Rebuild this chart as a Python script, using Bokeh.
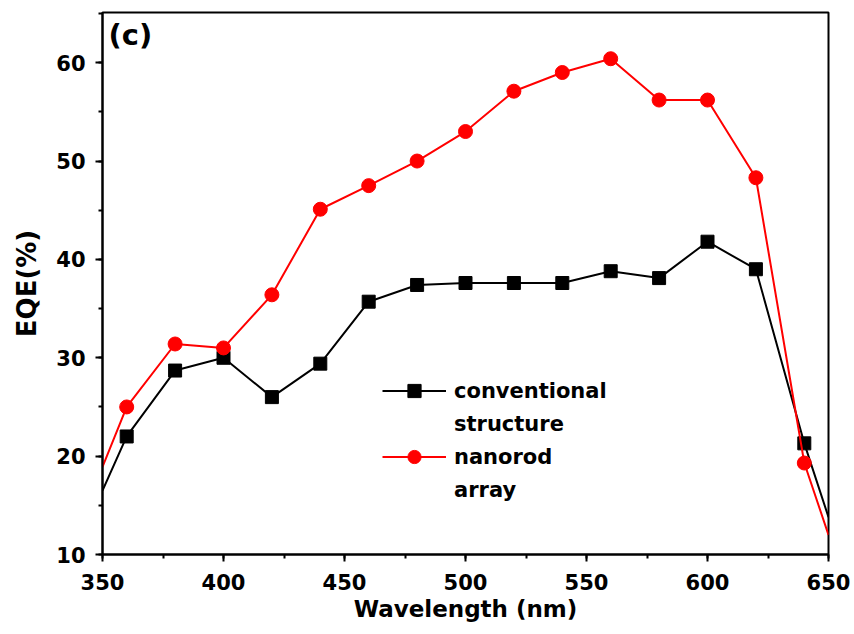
from bokeh.plotting import figure
from bokeh.models import Range1d, SingleIntervalTicker, Legend, LegendItem, Label
from bokeh.embed import file_html
from bokeh.resources import INLINE

# wavelength (nm); the first and last entries are where the lines meet the frame
wavelength = [350, 360, 380, 400, 420, 440, 460, 480, 500, 520, 540, 560, 580, 600, 620, 640, 650]
conventional = [16.5, 22.0, 28.7, 30.0, 26.0, 29.4, 35.7, 37.4, 37.6, 37.6, 37.6, 38.8, 38.1, 41.8, 39.0, 21.3, 13.8]
nanorod = [18.9, 25.0, 31.4, 31.0, 36.4, 45.1, 47.5, 50.0, 53.0, 57.1, 59.0, 60.4, 56.2, 56.2, 48.3, 19.3, 12.0]
label_lines = [["conventional", "structure"], ["nanorod", "array"]]

FONT = "DejaVu Sans"

p = figure(width=854, height=634, output_backend="svg", toolbar_location=None,
           x_range=Range1d(350, 650), y_range=Range1d(10, 65.1),
           min_border_left=102, min_border_right=26, min_border_top=12, min_border_bottom=80)
p.xgrid.visible = False
p.ygrid.visible = False
p.outline_line_color = "black"
p.outline_line_width = 2
p.background_fill_color = "white"
p.border_fill_color = "white"

p.xaxis.ticker = SingleIntervalTicker(interval=50, num_minor_ticks=2)
p.yaxis.ticker = SingleIntervalTicker(interval=10, num_minor_ticks=2)
for ax in (p.xaxis[0], p.yaxis[0]):
    ax.axis_line_width = 2
    ax.axis_line_color = "black"
    ax.major_tick_line_width = 2
    ax.minor_tick_line_width = 2
    ax.major_tick_out = 7
    ax.major_tick_in = 0
    ax.minor_tick_out = 4
    ax.minor_tick_in = 0
    ax.major_label_text_font = FONT
    ax.major_label_text_font_style = "bold"
    ax.major_label_text_font_size = "21px"
    ax.major_label_text_color = "black"
    ax.axis_label_text_font = FONT
    ax.axis_label_text_font_style = "bold"
    ax.axis_label_text_font_size = "23px"
    ax.axis_label_text_color = "black"
p.xaxis.axis_label = "Wavelength (nm)"
p.yaxis.axis_label = "EQE(%)"
p.yaxis.axis_label_text_font_size = "26px"
p.xaxis.major_label_standoff = 12
p.yaxis.major_label_standoff = 10
p.xaxis.axis_label_standoff = 3
p.yaxis.axis_label_standoff = 11

r1 = p.line(wavelength, conventional, line_color="black", line_width=2)
m1 = p.scatter(wavelength[1:-1], conventional[1:-1], marker="square", size=13,
               fill_color="black", line_color="black")
r2 = p.line(wavelength, nanorod, line_color="#ff0000", line_width=2)
m2 = p.scatter(wavelength[1:-1], nanorod[1:-1], marker="circle", size=14,
               fill_color="#ff0000", line_color="#ff0000")
# invisible renderer used for the second line of each legend label
blank = p.scatter([], [], alpha=0)

legend = Legend(items=[LegendItem(label=label_lines[0][0], renderers=[r1, m1]),
                       LegendItem(label=label_lines[0][1], renderers=[blank]),
                       LegendItem(label=label_lines[1][0], renderers=[r2, m2]),
                       LegendItem(label=label_lines[1][1], renderers=[blank])],
                location=(280, 48), border_line_color=None, background_fill_alpha=0,
                label_text_font=FONT, label_text_font_style="bold",
                label_text_font_size="21px", label_text_color="black",
                glyph_width=64, glyph_height=33, label_height=33,
                spacing=0, padding=4, margin=0, label_standoff=8)
p.add_layout(legend)

p.add_layout(Label(x=6, y=537, x_units="screen", y_units="screen", text="(c)",
                   text_font=FONT, text_font_style="bold", text_font_size="29px",
                   text_color="black", text_baseline="top"))

open("out.html", "w").write(file_html(p, INLINE))
